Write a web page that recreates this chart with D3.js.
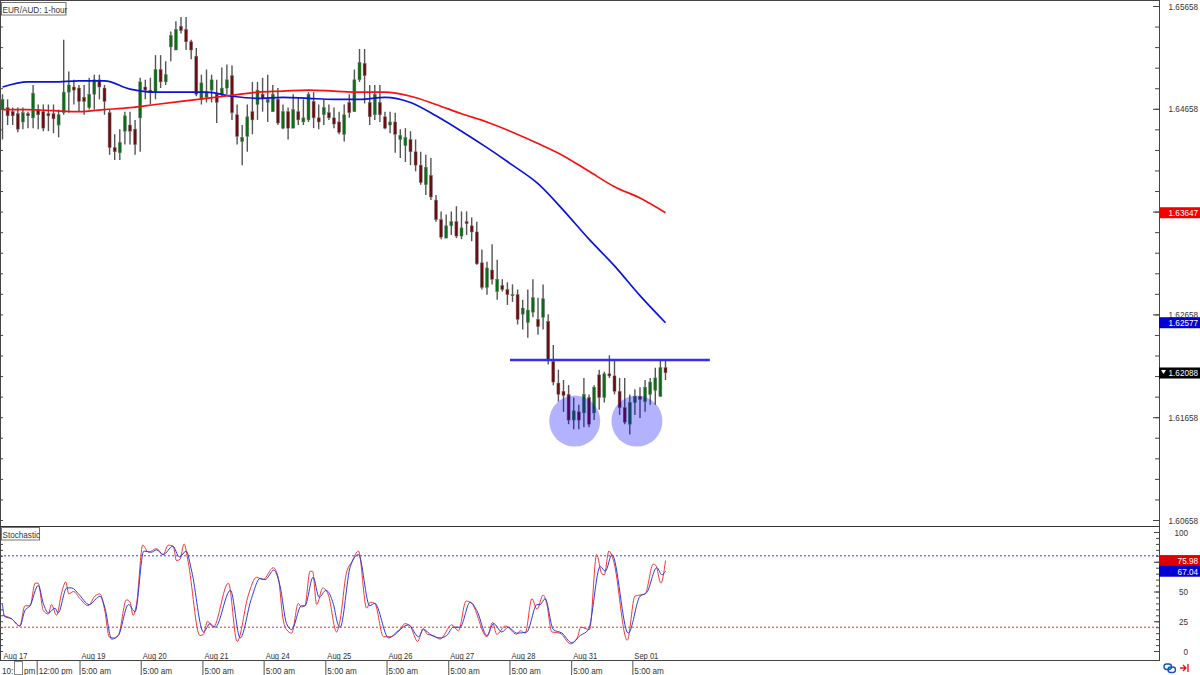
<!DOCTYPE html>
<html>
<head>
<meta charset="utf-8">
<script src="https://cdn.jsdelivr.net/npm/d3@7"></script>
<style>
html, body { margin: 0; padding: 0; background: #fff; }
svg { display: block; }
text { font-family: "Liberation Sans", sans-serif; font-size: 9.6px; fill: #333; }
.domain { display: none; }
</style>
</head>
<body>
<div id="chart"></div>
<script>
// candles, one entry per bar
const opens = [1.6465,1.6467,1.6463,1.6461,1.6453,1.6461,1.6457,1.6465,1.6463,1.6461,1.6461,1.6450,1.6462,1.6482,1.6487,1.6486,1.6477,1.6467,1.6480,1.6494,1.6486,1.6462,1.6428,1.6423,1.6444,1.6450,1.6446,1.6457,1.6487,1.6484,1.6482,1.6504,1.6492,1.6526,1.6523,1.6546,1.6543,1.6531,1.6517,1.6475,1.6477,1.6484,1.6480,1.6480,1.6486,1.6498,1.6460,1.6434,1.6439,1.6463,1.6470,1.6480,1.6472,1.6463,1.6475,1.6447,1.6463,1.6447,1.6463,1.6453,1.6455,1.6473,1.6457,1.6460,1.6462,1.6457,1.6453,1.6441,1.6472,1.6463,1.6494,1.6510,1.6472,1.6460,1.6472,1.6458,1.6450,1.6453,1.6436,1.6430,1.6436,1.6424,1.6411,1.6392,1.6401,1.6377,1.6358,1.6340,1.6352,1.6356,1.6342,1.6356,1.6352,1.6346,1.6316,1.6292,1.6309,1.6288,1.6294,1.6290,1.6285,1.6285,1.6266,1.6258,1.6268,1.6261,1.6263,1.6259,1.6220,1.6199,1.6191,1.6188,1.6163,1.6171,1.6170,1.6185,1.6170,1.6207,1.6185,1.6208,1.6206,1.6191,1.6175,1.6159,1.6180,1.6186,1.6181,1.6188,1.6192,1.6186,1.6214];
const highs = [1.6480,1.6475,1.6467,1.6467,1.6467,1.6463,1.6489,1.6470,1.6470,1.6470,1.6470,1.6465,1.6533,1.6502,1.6494,1.6489,1.6489,1.6496,1.6499,1.6499,1.6489,1.6465,1.6441,1.6446,1.6463,1.6463,1.6455,1.6496,1.6494,1.6496,1.6518,1.6518,1.6512,1.6541,1.6551,1.6555,1.6555,1.6533,1.6525,1.6499,1.6504,1.6499,1.6494,1.6506,1.6509,1.6508,1.6470,1.6450,1.6470,1.6492,1.6492,1.6496,1.6499,1.6489,1.6486,1.6470,1.6467,1.6480,1.6477,1.6475,1.6482,1.6482,1.6470,1.6475,1.6470,1.6467,1.6463,1.6470,1.6480,1.6504,1.6524,1.6524,1.6489,1.6489,1.6489,1.6463,1.6463,1.6462,1.6446,1.6447,1.6444,1.6436,1.6424,1.6421,1.6418,1.6382,1.6366,1.6363,1.6366,1.6371,1.6366,1.6366,1.6360,1.6356,1.6329,1.6317,1.6334,1.6319,1.6300,1.6297,1.6295,1.6290,1.6280,1.6290,1.6300,1.6282,1.6295,1.6266,1.6236,1.6212,1.6202,1.6197,1.6185,1.6178,1.6204,1.6188,1.6197,1.6212,1.6210,1.6226,1.6222,1.6204,1.6204,1.6188,1.6193,1.6195,1.6202,1.6204,1.6214,1.6222,1.6222];
const lows = [1.6436,1.6450,1.6450,1.6443,1.6446,1.6447,1.6447,1.6446,1.6444,1.6444,1.6442,1.6438,1.6460,1.6462,1.6470,1.6463,1.6460,1.6465,1.6465,1.6475,1.6460,1.6421,1.6416,1.6416,1.6431,1.6431,1.6421,1.6424,1.6475,1.6470,1.6475,1.6486,1.6489,1.6512,1.6523,1.6539,1.6523,1.6514,1.6478,1.6470,1.6472,1.6472,1.6452,1.6477,1.6480,1.6455,1.6431,1.6411,1.6424,1.6441,1.6455,1.6463,1.6453,1.6463,1.6450,1.6446,1.6436,1.6447,1.6450,1.6450,1.6453,1.6447,1.6446,1.6450,1.6455,1.6447,1.6441,1.6434,1.6457,1.6463,1.6492,1.6471,1.6450,1.6455,1.6453,1.6446,1.6442,1.6423,1.6418,1.6414,1.6411,1.6405,1.6392,1.6382,1.6377,1.6356,1.6339,1.6340,1.6343,1.6340,1.6339,1.6343,1.6337,1.6314,1.6290,1.6285,1.6295,1.6280,1.6288,1.6275,1.6278,1.6256,1.6251,1.6243,1.6263,1.6246,1.6251,1.6217,1.6197,1.6181,1.6171,1.6159,1.6154,1.6154,1.6156,1.6156,1.6163,1.6173,1.6180,1.6204,1.6188,1.6168,1.6159,1.6149,1.6168,1.6165,1.6171,1.6178,1.6178,1.6186,1.6202];
const closes = [1.6475,1.6459,1.6459,1.6446,1.6462,1.6459,1.6481,1.6460,1.6447,1.6459,1.6456,1.6460,1.6482,1.6489,1.6484,1.6473,1.6473,1.6480,1.6494,1.6487,1.6473,1.6428,1.6424,1.6433,1.6459,1.6444,1.6431,1.6492,1.6484,1.6482,1.6504,1.6492,1.6499,1.6537,1.6543,1.6542,1.6531,1.6523,1.6480,1.6491,1.6482,1.6494,1.6472,1.6486,1.6494,1.6462,1.6439,1.6438,1.6458,1.6455,1.6484,1.6476,1.6475,1.6480,1.6452,1.6463,1.6447,1.6465,1.6455,1.6457,1.6480,1.6457,1.6453,1.6467,1.6457,1.6451,1.6443,1.6460,1.6462,1.6494,1.6511,1.6498,1.6458,1.6480,1.6460,1.6447,1.6453,1.6441,1.6440,1.6438,1.6424,1.6411,1.6394,1.6409,1.6380,1.6358,1.6341,1.6352,1.6356,1.6342,1.6350,1.6354,1.6346,1.6315,1.6292,1.6311,1.6300,1.6300,1.6290,1.6285,1.6284,1.6261,1.6272,1.6270,1.6282,1.6254,1.6281,1.6222,1.6200,1.6188,1.6187,1.6163,1.6172,1.6163,1.6188,1.6159,1.6195,1.6185,1.6208,1.6206,1.6191,1.6175,1.6161,1.6180,1.6186,1.6183,1.6195,1.6200,1.6204,1.6214,1.6209];

// moving averages, read every five bars
const maBars = [0,5,10,15,20,25,30,35,40,45,50,55,60,65,70,75,80,85,90,95,100,105,110,115,120,125,130];
const blueMa = [1.6487,1.6492,1.6492,1.6493,1.6493,1.6485,1.6482,1.6482,1.6482,1.6478,1.6476,1.6477,1.6476,1.6475,1.6475,1.6477,1.6472,1.6459,1.6444,1.6428,1.6411,1.6393,1.6367,1.6339,1.6313,1.6284,1.62577];
const redMa = [1.6465,1.6465,1.6464,1.6463,1.6465,1.6467,1.6470,1.6473,1.6476,1.6479,1.6482,1.6483,1.6484,1.6483,1.6482,1.6482,1.6478,1.6470,1.6461,1.6453,1.6443,1.6432,1.6420,1.6405,1.6390,1.6379,1.63647];

// stochastic turning points
const kBars = [0,1.8,3.4,4.4,5.4,6.4,7,8,9,9.6,10.6,11.6,12.4,13,13.9,15.2,16.8,18.1,19.1,20.1,20.9,21.7,22.7,24.3,25,25.6,26.3,27.5,28.6,30.2,31.5,32.5,33.5,34.1,34.8,35.6,36.4,38.7,39.4,40.2,41.3,44.3,46,48.2,49.8,51.1,53.1,54.1,55,55.7,56.7,58,58.6,59.3,60.3,60.8,61.6,62.8,63.9,65.5,66.2,67.4,68.5,69.8,71.4,72.1,73,74.7,76,78,78.9,79.9,81.4,82.5,83.3,84.5,85.8,88.1,89.4,90.9,92,95,96.1,96.9,98.6,100.8,101.5,102.5,103.8,104.8,106,106.7,107.7,109.3,111.4,112.7,113.4,115.1,116.5,117.5,118,118.9,119.8,122.5,124,126,127.6,128.1,129.1,130];
const kVals = [30,27,21,38,38,57,57,34,31,39,30,49,58,48,50,44,38,46,48,33,12,11,13,43,41,30,40,89,83,86,81,89,88,76,77,90,75,13,14,25,20,57,8,47,62,60,70,61,27,18,15,40,37,38,67,67,39,53,47,16,26,65,75,84,36,41,40,12,12,18,23,21,8,19,14,13,10,22,17,42,40,12,24,14,21,14,17,15,44,35,47,40,16,15,6,11,20,18,81,65,64,84,76,9,46,48,73,72,57,75.98];
const dBars = [0,0.4,1.8,3.4,4.4,5.4,7,8,9,10.3,10.9,12.6,13.6,14.9,17,19.1,20.1,21.4,22.7,24.7,26,27.7,29.2,30.2,31.5,33.4,34.7,36,37.1,39.4,40.7,41.7,44.7,46.6,48.8,50.5,51.5,53.2,54.4,55.7,56.7,58.6,59.3,60.9,62.1,63.4,64.9,65.8,66.2,68.2,69.8,72,73,75.7,77.6,79.6,81.6,82.5,84.2,85.8,87.1,88.4,89.7,91.7,93,95,96.3,97.9,99.2,100.8,102.8,104.8,105.4,106.4,108,109.7,111.6,113.3,114.9,117.2,118.2,119.5,122.7,125,126.3,128.3,129.3,130];
const dVals = [39,29,27,21,34,38,55,40,32,36,32,53,53,48,39,46,36,10,13,39,33,84,83,85,81,88,79,84,67,16,23,20,51,11,44,61,60,68,55,23,18,38,38,62,45,51,39,22,20,71,81,38,40,11,17,22,12,18,13,11,13,20,20,41,34,13,23,16,20,15,16,39,39,44,18,15,7,13,18,71,67,81,15,46,49,70,64,67.04];

// axis labels, the hidden 1.63658 and 75 only keep their ticks
const priceTicks = [1.65658,1.64658,1.63658,1.62658,1.61658,1.60658];
const priceLabels = [1.65658,1.64658,1.62658,1.61658,1.60658];
const stochTicks = [100,75,50,25,0];
const stochLabels = [100,50,25,0];
const dateLabels = ['Aug 17','Aug 19','Aug 20','Aug 21','Aug 24','Aug 25','Aug 26','Aug 27','Aug 28','Aug 31','Sep 01'];
const dateBars = [-0.1,15.2,27.2,39.3,51.3,63.4,75.4,87.5,99.5,111.6,123.6];
const timeLabels = ['12:00 pm','5:00 am','5:00 am','5:00 am','5:00 am','5:00 am','5:00 am','5:00 am','5:00 am','5:00 am','5:00 am'];
const timeBars = [6.8,15.2,27.2,39.3,51.3,63.4,75.4,87.5,99.5,111.6,123.6];

// annotations
const neckPrice = 1.62215;
const neckBars = [99.5,138.7];
const bottomBars = [112.2,124.4];
const bottomPrice = 1.6162;

var width = 1200, height = 675, axisX = 1159;

var svg = d3.select("#chart").append("svg")
    .attr("width", width)
    .attr("height", height);

var x = d3.scaleLinear().domain([0, 130]).range([2.5, 665.5]);
var y = d3.scaleLinear().domain([1.60658, 1.65658]).range([520, 6]);
var yStoch = d3.scaleLinear().domain([0, 100]).range([651, 532]);

// frame
svg.append("rect").attr("x", 0.5).attr("y", 0.5).attr("width", axisX).attr("height", 660)
    .attr("fill", "none").attr("stroke", "#444");
svg.append("line").attr("x1", 0).attr("x2", axisX).attr("y1", 526.5).attr("y2", 526.5)
    .attr("stroke", "#333").attr("stroke-width", 1);

// price axis, long ticks on the labelled prices
var priceMinor = d3.range(0, 26).map(i => 1.65658 - i * 0.002);
svg.append("g").attr("transform", "translate(" + axisX + ",0)")
    .call(d3.axisLeft(y).tickValues(priceMinor).tickSize(4).tickFormat(""))
    .selectAll("line").attr("stroke", "#444");
svg.append("g").attr("transform", "translate(" + axisX + ",0)")
    .call(d3.axisLeft(y).tickValues(priceTicks).tickSize(6).tickFormat(""))
    .selectAll("line").attr("stroke", "#444");
svg.append("g").attr("transform", "translate(0,0)")
    .call(d3.axisRight(y).tickValues(priceMinor).tickSize(3).tickFormat(""))
    .selectAll("line").attr("stroke", "#444");
svg.selectAll(".priceLabel").data(priceLabels).enter().append("text")
    .attr("x", 1198).attr("y", d => y(d) + 3.5)
    .attr("text-anchor", "end").text(d => d.toFixed(5));

// stochastic axis
var stochMinor = d3.range(0, 21).map(i => i * 5);
svg.append("g").attr("transform", "translate(" + axisX + ",0)")
    .call(d3.axisLeft(yStoch).tickValues(stochMinor).tickSize(3).tickFormat(""))
    .selectAll("line").attr("stroke", "#444");
svg.append("g").attr("transform", "translate(" + axisX + ",0)")
    .call(d3.axisLeft(yStoch).tickValues(stochTicks).tickSize(5).tickFormat(""))
    .selectAll("line").attr("stroke", "#444");
svg.append("g")
    .call(d3.axisRight(yStoch).tickValues(stochMinor).tickSize(3).tickFormat(""))
    .selectAll("line").attr("stroke", "#444");
svg.selectAll(".stochLabel").data(stochLabels).enter().append("text")
    .attr("x", 1188).attr("y", d => yStoch(d) + 3.5)
    .attr("text-anchor", "end").text(d => d);

// candles
var bars = svg.append("g");
bars.selectAll(".wick").data(opens).enter().append("line")
    .attr("x1", (d, i) => x(i)).attr("x2", (d, i) => x(i))
    .attr("y1", (d, i) => y(highs[i])).attr("y2", (d, i) => y(lows[i]))
    .attr("stroke", "#555").attr("stroke-width", 1.4);
bars.selectAll(".body").data(opens).enter().append("rect")
    .attr("x", (d, i) => x(i) - 1.5)
    .attr("width", 3)
    .attr("y", (d, i) => y(Math.max(d, closes[i])))
    .attr("height", (d, i) => Math.max(1, Math.abs(y(d) - y(closes[i]))))
    .attr("fill", (d, i) => closes[i] > d ? "#0a6e12" : "#6e0c12")
    .attr("stroke", "#777").attr("stroke-width", 0.5);

// moving averages
var maLine = d3.line().x((d, i) => x(maBars[i])).y(d => y(d)).curve(d3.curveMonotoneX);
svg.append("path").datum(blueMa).attr("d", maLine)
    .attr("fill", "none").attr("stroke", "#0a14d8").attr("stroke-width", 1.7);
svg.append("path").datum(redMa).attr("d", maLine)
    .attr("fill", "none").attr("stroke", "#f81010").attr("stroke-width", 1.7);

// double bottom markings
svg.selectAll(".bottom").data(bottomBars).enter().append("circle")
    .attr("cx", d => x(d)).attr("cy", y(bottomPrice)).attr("r", 25.5)
    .attr("fill", "#0000ff").attr("fill-opacity", 0.3);
svg.append("line")
    .attr("x1", x(neckBars[0])).attr("x2", x(neckBars[1]))
    .attr("y1", y(neckPrice)).attr("y2", y(neckPrice))
    .attr("stroke", "#3030f0").attr("stroke-width", 2.4);

// stochastic levels
svg.append("line").attr("x1", 0).attr("x2", axisX).attr("y1", yStoch(80)).attr("y2", yStoch(80))
    .attr("stroke", "#3a3ac8").attr("stroke-dasharray", "2,2");
svg.append("line").attr("x1", 0).attr("x2", axisX).attr("y1", yStoch(20)).attr("y2", yStoch(20))
    .attr("stroke", "#e03030").attr("stroke-dasharray", "2,2");

// stochastic lines
svg.append("path").datum(kVals)
    .attr("d", d3.line().x((d, i) => x(kBars[i])).y(d => yStoch(d)).curve(d3.curveMonotoneX))
    .attr("fill", "none").attr("stroke", "#f0383c").attr("stroke-width", 1);
svg.append("path").datum(dVals)
    .attr("d", d3.line().x((d, i) => x(dBars[i])).y(d => yStoch(d)).curve(d3.curveMonotoneX))
    .attr("fill", "none").attr("stroke", "#2c3ce0").attr("stroke-width", 1);

// value tags on the right
function tag(yPos, color, label) {
    svg.append("rect").attr("x", axisX).attr("y", yPos - 5.5).attr("width", 41).attr("height", 11)
        .attr("fill", color);
    svg.append("text").attr("x", 1198).attr("y", yPos + 3.5)
        .attr("text-anchor", "end").style("fill", "#fff").text(label);
}
tag(y(1.63647), "#f20000", "1.63647");
tag(y(1.62577), "#0000d2", "1.62577");
tag(y(1.62088), "#000000", "1.62088");
svg.append("path").attr("d", "M1161,370 h5 l-2.5,4 z").attr("fill", "#fff");
tag(yStoch(75.98), "#dc0000", "75.98");
tag(yStoch(67.04), "#0000d2", "67.04");

// date row and time row
svg.selectAll(".date").data(dateLabels).enter().append("text")
    .attr("x", (d, i) => x(dateBars[i]) + 1.5).attr("y", 659)
    .style("font-size", "8.9px").text(d => d);
svg.selectAll(".timeTick").data(timeBars).enter().append("line")
    .attr("x1", d => x(d)).attr("x2", d => x(d)).attr("y1", 660).attr("y2", 675)
    .attr("stroke", "#555");
svg.selectAll(".time").data(timeLabels).enter().append("text")
    .attr("x", (d, i) => x(timeBars[i]) + 1.5).attr("y", 673.5)
    .text(d => d);
svg.append("text").attr("x", 2).attr("y", 673.5).text("10:");
svg.append("text").attr("x", 24).attr("y", 673.5).text("pm");
svg.append("rect").attr("x", 14.5).attr("y", 661.5).attr("width", 8).attr("height", 13)
    .attr("fill", "#fff").attr("stroke", "#888");

// panel titles
function panelTitle(tx, ty, w, label) {
    svg.append("rect").attr("x", tx).attr("y", ty).attr("width", w).attr("height", 12.5)
        .attr("fill", "#fff").attr("stroke", "#777");
    svg.append("text").attr("x", tx + 1).attr("y", ty + 10).text(label);
}
panelTitle(1.5, 2.5, 64.5, "EUR/AUD: 1-hour");
panelTitle(1.5, 527.5, 38, "Stochastic");

// small icons in the corner
svg.append("rect").attr("x", 1164).attr("y", 664).attr("width", 7.5).attr("height", 5.5).attr("rx", 2.7)
    .attr("fill", "none").attr("stroke", "#1a4fc0").attr("stroke-width", 1.4);
svg.append("rect").attr("x", 1168).attr("y", 667).attr("width", 7.5).attr("height", 5.5).attr("rx", 2.7)
    .attr("fill", "none").attr("stroke", "#1a4fc0").attr("stroke-width", 1.4);
svg.append("path").attr("d", "M1180,668 h6 M1183,665 l3,3 l-3,3 M1188,664 v8")
    .attr("fill", "none").attr("stroke", "#e81010").attr("stroke-width", 1.3);

// the reference text is narrow, squeeze every label sideways
svg.selectAll("text").each(function() {
    var t = d3.select(this);
    var tx = +t.attr("x"), ty = +t.attr("y");
    t.attr("x", 0).attr("y", 0)
        .attr("transform", "translate(" + tx + "," + ty + ") scale(0.85,1)");
});
</script>
</body>
</html>
